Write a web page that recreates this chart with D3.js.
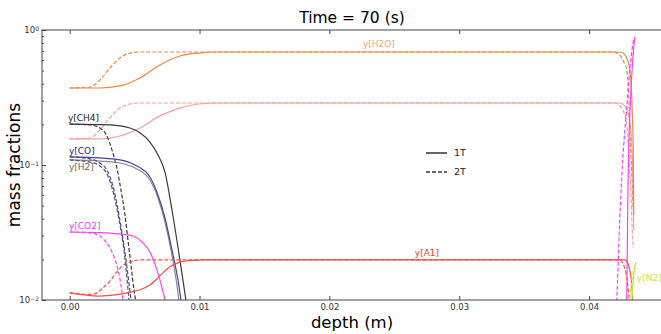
<!DOCTYPE html>
<html>
<head>
<meta charset="utf-8">
<script src="https://cdn.jsdelivr.net/npm/d3@7"></script>
<style>
  body { margin: 0; background: #fff; }
  text { font-family: "DejaVu Sans", sans-serif; }
</style>
</head>
<body>
<div id="plot"></div>
<script>
// [depth (m), mass fraction]
var h2o1T = [[0,0.372],[0.00233,0.372],[0.00387,0.385],[0.00541,0.441],[0.00695,0.551],[0.00849,0.642],[0.00993,0.675],[0.01157,0.687],[0.0420,0.687],[0.04252,0.681],[0.04282,0.642],[0.04305,0.56],[0.04321,0.441],[0.04332,0.256],[0.04340,0.129],[0.04344,0.0426]];
var h2o2T = [[0,0.372],[0.00156,0.378],[0.00233,0.426],[0.00310,0.523],[0.00387,0.620],[0.00464,0.675],[0.00541,0.687],[0.0418,0.687],[0.04236,0.653],[0.04267,0.579],[0.04290,0.506],[0.04305,0.330],[0.04317,0.153],[0.04329,0.0843],[0.04340,0.0464]];
var o21T = [[0,0.156],[0.00233,0.156],[0.00387,0.164],[0.00541,0.188],[0.00695,0.231],[0.00849,0.264],[0.00993,0.283],[0.01157,0.288],[0.0424,0.288],[0.04267,0.278],[0.04298,0.247],[0.04321,0.182],[0.04336,0.0918],[0.04344,0.033]];
var o22T = [[0,0.156],[0.00156,0.158],[0.00233,0.182],[0.00310,0.223],[0.00387,0.264],[0.00464,0.283],[0.00541,0.288],[0.0420,0.288],[0.04236,0.274],[0.04267,0.247],[0.04290,0.201],[0.04305,0.129],[0.04321,0.0653],[0.04332,0.033],[0.04340,0.0243]];
var ch41T = [[0,0.201],[0.00310,0.198],[0.00464,0.188],[0.00541,0.173],[0.00618,0.148],[0.00680,0.119],[0.00734,0.0887],[0.00788,0.0464],[0.00849,0.0198],[0.00895,0.0100],[0.00941,0.0051]];
var ch42T = [[0,0.201],[0.00156,0.198],[0.00233,0.188],[0.00287,0.164],[0.00326,0.129],[0.00364,0.095],[0.00395,0.0653],[0.00426,0.0426],[0.00449,0.0278],[0.00472,0.0182],[0.00495,0.0119],[0.00507,0.0100],[0.00526,0.0060]];
var co1T = [[0,0.115],[0.00233,0.113],[0.00387,0.109],[0.00503,0.100],[0.00618,0.0815],[0.00680,0.060],[0.00734,0.0405],[0.00788,0.0235],[0.00834,0.0141],[0.00857,0.0100],[0.00888,0.0060]];
var co2T = [[0,0.115],[0.00156,0.111],[0.00233,0.1035],[0.00295,0.0887],[0.00341,0.0653],[0.00380,0.0426],[0.00418,0.0255],[0.00449,0.0153],[0.00472,0.0100],[0.00495,0.0060]];
var h21T = [[0,0.109],[0.00233,0.107],[0.00387,0.1035],[0.00503,0.095],[0.00618,0.0774],[0.00680,0.057],[0.00734,0.0378],[0.00788,0.0215],[0.00826,0.0129],[0.00841,0.0100],[0.00872,0.0060]];
var h22T = [[0,0.109],[0.00156,0.105],[0.00233,0.0984],[0.00295,0.0829],[0.00341,0.060],[0.00380,0.0392],[0.00418,0.0235],[0.00441,0.0146],[0.00457,0.0100],[0.00480,0.0060]];
var co21T = [[0,0.0319],[0.00233,0.0316],[0.00387,0.0308],[0.00487,0.0298],[0.00557,0.0269],[0.00618,0.0227],[0.00672,0.0167],[0.00711,0.0123],[0.00734,0.0100],[0.00757,0.0071],[0.0095,0.001],[0.0425,0.001],[0.04275,0.006],[0.04290,0.0100],[0.04298,0.055],[0.04305,0.129],[0.04321,0.330],[0.04336,0.599],[0.04352,0.887]];
var co22T = [[0,0.0319],[0.00156,0.0314],[0.00233,0.0298],[0.00279,0.0269],[0.00326,0.0227],[0.00372,0.0167],[0.00395,0.0129],[0.00410,0.0100],[0.00426,0.0071],[0.0060,0.001],[0.0415,0.001],[0.04190,0.0051],[0.04213,0.0100],[0.04236,0.0392],[0.04259,0.109],[0.04290,0.264],[0.04313,0.506],[0.04329,0.687],[0.04344,0.872]];
var a11T = [[0,0.0113],[0.00118,0.0109],[0.00233,0.0107],[0.00349,0.0109],[0.00464,0.0114],[0.00541,0.0119],[0.00618,0.0129],[0.00695,0.0151],[0.00772,0.0176],[0.00849,0.0191],[0.00926,0.0196],[0.01032,0.0198],[0.04275,0.0198],[0.04298,0.0188],[0.04313,0.0167],[0.04329,0.0129],[0.04336,0.0100],[0.04344,0.0071]];
var a12T = [[0,0.0113],[0.00079,0.0111],[0.00156,0.0110],[0.00210,0.0113],[0.00256,0.0123],[0.00310,0.0138],[0.00356,0.0158],[0.00403,0.0178],[0.00464,0.0191],[0.00541,0.0198],[0.04236,0.0198],[0.04259,0.0188],[0.04282,0.0161],[0.04298,0.0129],[0.04309,0.0100],[0.04321,0.0071]];
var n21T = [[0.04290,0.003],[0.04313,0.0060],[0.04329,0.0100],[0.04344,0.0153],[0.04359,0.0191]];
var n22T = [[0.04275,0.003],[0.04298,0.0060],[0.04313,0.0100],[0.04336,0.0153],[0.04352,0.0182]];

var xTicks = [0, 0.01, 0.02, 0.03, 0.04];
var xTickLabels = ["0.00", "0.01", "0.02", "0.03", "0.04"];
var yTicks = [1, 0.1, 0.01];
var yTickExps = ["0", "\u22121", "\u22122"];

// series: data, colour, dashed
var series = [
  {d: o21T, c: "#f3a0a0", dash: false},
  {d: o22T, c: "#f3a0a0", dash: true},
  {d: h2o1T, c: "#e8894a", dash: false},
  {d: h2o2T, c: "#e8894a", dash: true},
  {d: ch41T, c: "#3a3a3a", dash: false},
  {d: ch42T, c: "#3a3a3a", dash: true},
  {d: h21T, c: "#8a8a8a", dash: false},
  {d: h22T, c: "#555555", dash: true},
  {d: co1T, c: "#45459d", dash: false},
  {d: co2T, c: "#45459d", dash: true},
  {d: co21T, c: "#ff40ff", dash: false},
  {d: co22T, c: "#ff40ff", dash: true},
  {d: a11T, c: "#ff4a4a", dash: false},
  {d: a12T, c: "#ff4a4a", dash: true},
  {d: n21T, c: "#c8e64a", dash: false},
  {d: n22T, c: "#c8e64a", dash: true}
];

// species labels at data coords
var labels = [
  {t: "y[H2O]", x: 0.02258, y: 0.748, c: "#f5a06a"},
  {t: "y[CH4]", x: -0.00013, y: 0.212, c: "#222222"},
  {t: "y[CO]", x: -0.00005, y: 0.1206, c: "#1a1aa0"},
  {t: "y[H2]", x: -0.00005, y: 0.0918, c: "#666666"},
  {t: "y[CO2]", x: -0.00005, y: 0.0336, c: "#ff33ff"},
  {t: "y[A1]", x: 0.02658, y: 0.0212, c: "#ff3333"},
  {t: "y[N2]", x: 0.04368, y: 0.0138, c: "#c8e640"}
];

var W = 661, H = 334;
var margin = {top: 30, left: 42, bottom: 34};
var plotW = 625, plotH = H - margin.top - margin.bottom;

var svg = d3.select("#plot").append("svg")
  .attr("width", W).attr("height", H);

var x = d3.scaleLinear().domain([-0.00213, 0.0460]).range([margin.left, margin.left + plotW]);
var y = d3.scaleLog().domain([0.01, 1]).range([margin.top + plotH, margin.top]);

svg.append("clipPath").attr("id", "clip")
  .append("rect")
  .attr("x", margin.left).attr("y", margin.top)
  .attr("width", plotW).attr("height", plotH);

var line = d3.line()
  .x(function(d) { return x(d[0]); })
  .y(function(d) { return y(d[1]); })
  .curve(d3.curveMonotoneX);

var g = svg.append("g").attr("clip-path", "url(#clip)");
series.forEach(function(s) {
  g.append("path")
    .attr("d", line(s.d))
    .attr("fill", "none")
    .attr("stroke", s.c)
    .attr("stroke-width", 1.2)
    .attr("stroke-dasharray", s.dash ? "4,2" : null);
});

// frame
svg.append("rect")
  .attr("x", margin.left).attr("y", margin.top)
  .attr("width", plotW).attr("height", plotH)
  .attr("fill", "none").attr("stroke", "#444").attr("stroke-width", 1);

// x ticks (bottom + top, inward)
var xg = svg.append("g").attr("transform", "translate(0," + (margin.top + plotH) + ")")
  .call(d3.axisBottom(x).tickValues(xTicks).tickSize(-4).tickPadding(4)
    .tickFormat(function(d, i) { return xTickLabels[i]; }));
svg.append("g").attr("transform", "translate(0," + margin.top + ")")
  .call(d3.axisTop(x).tickValues(xTicks).tickSize(-4).tickFormat(""));

// y ticks with log minors
var minors = [];
[0.01, 0.1].forEach(function(b) { for (var k = 2; k <= 9; k++) minors.push(b * k); });
svg.append("g").attr("transform", "translate(" + margin.left + ",0)")
  .call(d3.axisLeft(y).tickValues(minors).tickSize(-2).tickFormat(""));
var yg = svg.append("g").attr("transform", "translate(" + margin.left + ",0)")
  .call(d3.axisLeft(y).tickValues(yTicks).tickSize(-4).tickPadding(5).tickFormat(""));

svg.selectAll(".domain").remove();
svg.selectAll(".tick line").attr("stroke", "#444");
xg.selectAll("text").attr("font-size", "8.5px").attr("fill", "#333").attr("font-family", "DejaVu Sans");

yg.selectAll(".tick").each(function(d, i) {
  var t = d3.select(this).append("text")
    .attr("x", -3).attr("dy", "0.32em")
    .attr("text-anchor", "end")
    .attr("fill", "#333")
    .attr("font-size", "8.5px");
  t.append("tspan").text("10");
  t.append("tspan").attr("dy", "-0.45em").attr("font-size", "6px").text(yTickExps[i]);
});

// species labels
svg.selectAll(".lab").data(labels).enter().append("text")
  .attr("class", "lab")
  .attr("x", function(d) { return x(d.x); })
  .attr("y", function(d) { return y(d.y); })
  .attr("font-size", "9px")
  .attr("fill", function(d) { return d.c; })
  .text(function(d) { return d.t; });

// legend
var legend = [{t: "1T", dash: false}, {t: "2T", dash: true}];
legend.forEach(function(l, i) {
  var ly = 153 + i * 19;
  svg.append("line")
    .attr("x1", 426).attr("x2", 447).attr("y1", ly).attr("y2", ly)
    .attr("stroke", "#333").attr("stroke-width", 1.5)
    .attr("stroke-dasharray", l.dash ? "4,2" : null);
  svg.append("text")
    .attr("x", 454).attr("y", ly).attr("dy", "0.35em")
    .attr("font-size", "9.5px").attr("fill", "#222")
    .text(l.t);
});

// title and axis labels
svg.append("text")
  .attr("x", 352).attr("y", 23)
  .attr("text-anchor", "middle")
  .attr("font-size", "15.5px")
  .text("Time = 70 (s)");

svg.append("text")
  .attr("x", 352).attr("y", 328)
  .attr("text-anchor", "middle")
  .attr("font-size", "16.5px")
  .text("depth (m)");

svg.append("text")
  .attr("transform", "translate(20," + (margin.top + plotH / 2) + ") rotate(-90)")
  .attr("text-anchor", "middle")
  .attr("font-size", "17px")
  .text("mass fractions");
</script>
</body>
</html>
